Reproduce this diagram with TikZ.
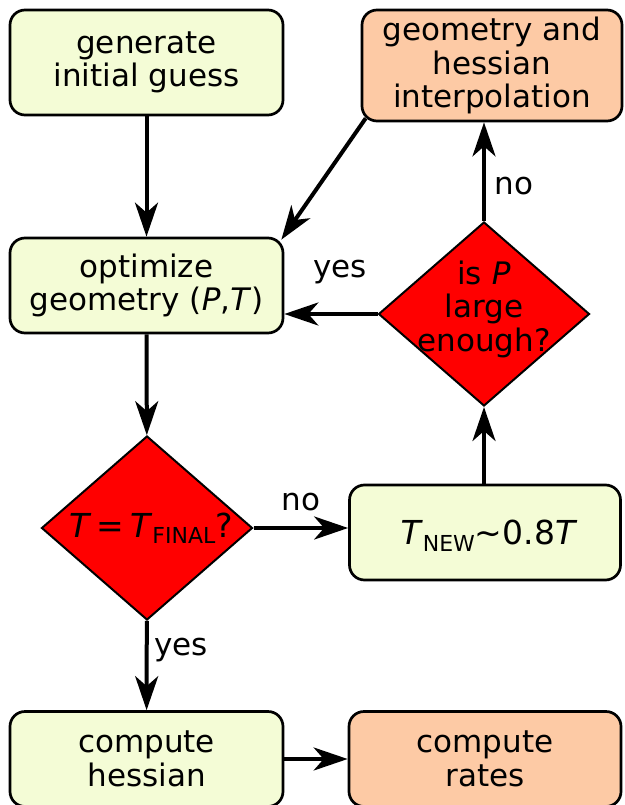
\documentclass[tikz,border=0pt]{standalone}
\usepackage{fontspec}
\setmainfont{DejaVu Sans}
\usepackage{tikz}
\usetikzlibrary{shapes.geometric,arrows.meta,positioning}
\definecolor{stepGreen}{RGB}{244,252,214}
\definecolor{endPeach}{RGB}{253,202,165}
\definecolor{testRed}{RGB}{255,0,0}
\newcommand{\lowsub}[1]{\raisebox{-0.35ex}{\fontsize{22}{22}\selectfont #1}}

\begin{document}
\begin{tikzpicture}[x=1pt, y=-1pt,
    every node/.style={font=\fontsize{31}{33.5}\selectfont},
    box/.style={draw, rounded corners=15pt, line width=2.7pt, align=center, inner sep=0pt, minimum width=273pt, minimum height=95pt},
    test/.style={draw, diamond, fill=testRed, line width=2pt, inner sep=0pt, minimum width=211pt, minimum height=184pt},
    flow/.style={-{Stealth[length=34pt,width=23pt,inset=10pt]}, line width=4pt}]
    \useasboundingbox (0,0) rectangle (624,805);
    % boxes
    \node[box, fill=stepGreen, minimum height=105pt] (gen) at (146.5,62.5) {generate\\initial guess};
    \node[box, fill=endPeach, minimum width=260pt, minimum height=111pt] (interp) at (492,65.5) {geometry and\\hessian\\interpolation};
    \node[box, fill=stepGreen] (opt) at (146.5,285.5) {optimize\\geometry (\textit{P},\textit{T})};
    \node[box, fill=stepGreen, minimum width=271pt, font=\fontsize{33}{35}\selectfont, text depth=0pt] (tnew) at (485,532.5) {\hspace{8pt}\textit{T}\lowsub{NEW}∼0.8\textit{T}};
    \node[box, fill=stepGreen] (hess) at (146.5,759) {compute\\hessian};
    \node[box, fill=endPeach, minimum width=272pt] (rates) at (485,759) {compute\\rates};
    % decisions
    \node[test, label={[align=center, yshift=5pt]center:is \textit{P}\\large\\enough?}] (isP) at (484,314) {};
    \node[test, label={[font=\fontsize{33}{35}\selectfont, xshift=4pt]center:\textit{T}\,=\,\textit{T}\lowsub{FINAL}?}] (tfin) at (147,528) {};
    % connectors
    \draw[flow] (gen) -- (opt);
    \draw[flow] ([xshift=5pt,yshift=4pt]interp.south west) -- ([xshift=-3pt,yshift=-3pt]opt.north east);
    \draw[flow] (isP.west) -- (isP.west -| opt.east);
    \draw[flow] (isP.north) -- (isP.north |- interp.south);
    \draw[flow] (opt) -- (tfin);
    \draw[flow] (tfin.east) -- (tfin.east -| tnew.west);
    \draw[flow] (tnew.north -| isP.south) -- (isP.south);
    \draw[flow] (tfin) -- (hess);
    \draw[flow] (hess) -- (rates);
    % answers
    \node (yesP) at (340,272) {yes};
    \node (noP) at (514,186) {no};
    \node (noT) at (301,502) {no};
    \node (yesT) at (181,650) {yes};
\end{tikzpicture}
\end{document}
